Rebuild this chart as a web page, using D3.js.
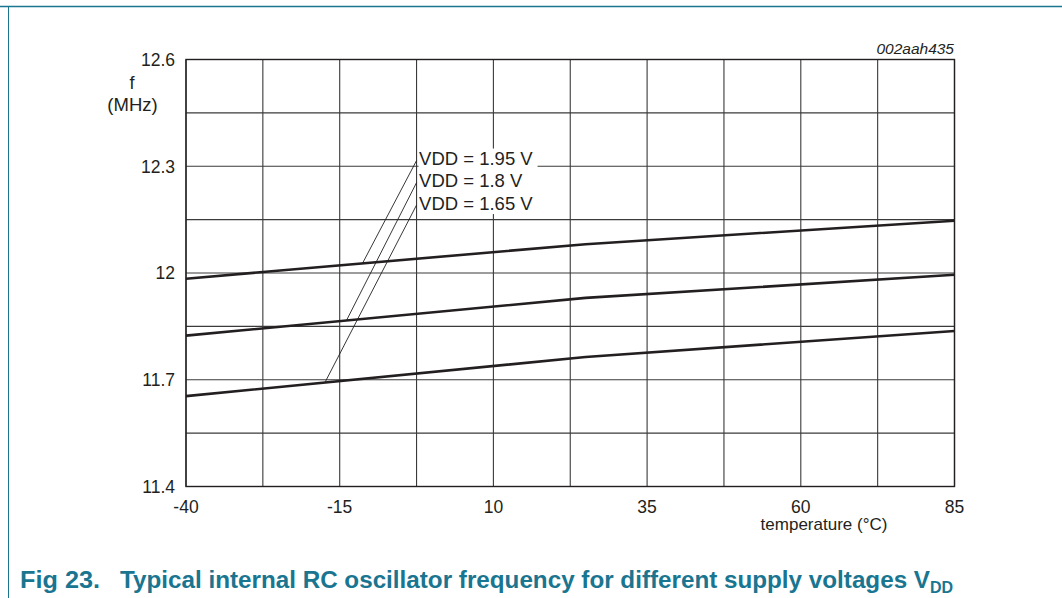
<!DOCTYPE html>
<html lang="en">
<head>
<meta charset="UTF-8">
<title>RC oscillator frequency</title>
<style>
  body { margin: 0; background: #fff; }
  text { font-family: "Liberation Sans", Arial, sans-serif; fill: #231f20; }
</style>
</head>
<body>
<svg id="svg" width="1062" height="598"></svg>
<script src="https://d3js.org/d3.v7.min.js"></script>
<script>
  // data (temperature in degC, frequency in MHz)
  const temps = [-40, 25, 85]
  const f195 = [11.984, 12.081, 12.147]
  const f180 = [11.824, 11.930, 11.995]
  const f165 = [11.654, 11.764, 11.837]
  const seriesNames = ['VDD = 1.95 V', 'VDD = 1.8 V', 'VDD = 1.65 V']
  // where each label's leader line touches its curve
  const leaderTemps = [-11.3, -13.9, -17.4]
  const leaderTops = [12.316, 12.254, 12.191]
  const xTicks = [-40, -15, 10, 35, 60, 85]
  const yTicks = [11.4, 11.7, 12, 12.3, 12.6]

  const margin = { top: 59.5, left: 186, right: 107.5, bottom: 111.5 }
  const width = 1062 - margin.left - margin.right
  const height = 598 - margin.top - margin.bottom

  const svg = d3.select('#svg')

  // teal frame around the figure
  svg.append('line').attr('x1', 0).attr('x2', 1062).attr('y1', 6.5).attr('y2', 6.5)
    .attr('stroke', '#1a7590').attr('stroke-width', 1.5)
  svg.append('line').attr('x1', 8.5).attr('x2', 8.5).attr('y1', 6).attr('y2', 598)
    .attr('stroke', '#1a7590').attr('stroke-width', 1)

  const g = svg.append('g').attr('transform', `translate(${margin.left},${margin.top})`)

  const x = d3.scaleLinear().domain([-40, 85]).range([0, width])
  const y = d3.scaleLinear().domain([11.4, 12.6]).range([height, 0])

  // grid: every 12.5 degC and every 0.15 MHz
  const xGrid = d3.range(0, 11).map(i => -40 + i * 12.5)
  const yGrid = d3.range(0, 9).map(i => 11.4 + i * 0.15)

  g.selectAll('.vgrid').data(xGrid).join('line')
    .attr('class', 'vgrid')
    .attr('x1', d => x(d)).attr('x2', d => x(d))
    .attr('y1', 0).attr('y2', height)
    .attr('stroke', '#3a3a3a').attr('stroke-width', 1.1)
  g.selectAll('.hgrid').data(yGrid).join('line')
    .attr('class', 'hgrid')
    .attr('x1', 0).attr('x2', width)
    .attr('y1', d => y(d)).attr('y2', d => y(d))
    .attr('stroke', '#3a3a3a').attr('stroke-width', 1.1)

  g.append('rect').attr('width', width).attr('height', height)
    .attr('fill', 'none').attr('stroke', '#231f20').attr('stroke-width', 1.4)

  // tick labels
  g.selectAll('.xt').data(xTicks).join('text')
    .attr('class', 'xt')
    .attr('x', d => x(d)).attr('y', height + 26)
    .attr('text-anchor', 'middle').attr('font-size', 17.5)
    .text(d => d)
  g.selectAll('.yt').data(yTicks).join('text')
    .attr('class', 'yt')
    .attr('x', -11).attr('y', d => y(d) + 6.3)
    .attr('text-anchor', 'end').attr('font-size', 17.5)
    .text(d => d3.format('~g')(d))

  svg.append('text').attr('x', 132).attr('y', 89).attr('text-anchor', 'middle')
    .attr('font-size', 18).text('f')
  svg.append('text').attr('x', 132.5).attr('y', 110.5).attr('text-anchor', 'middle')
    .attr('font-size', 18.5).text('(MHz)')
  svg.append('text').attr('x', 824).attr('y', 530).attr('text-anchor', 'middle')
    .attr('font-size', 17).text('temperature (°C)')
  svg.append('text').attr('x', 954).attr('y', 53.5).attr('text-anchor', 'end')
    .attr('font-size', 15.5).attr('font-style', 'italic').text('002aah435')

  // curves
  const series = [f195, f180, f165]
  const line = d3.line().x((d, i) => x(temps[i])).y(d => y(d))
  g.selectAll('.curve').data(series).join('path')
    .attr('class', 'curve')
    .attr('d', line)
    .attr('fill', 'none').attr('stroke', '#231f20').attr('stroke-width', 2.6)

  // labels with white box + leader lines
  const labelX = -2.5
  const lab = g.append('g')
  lab.append('rect')
    .attr('x', x(labelX) + 2).attr('y', y(leaderTops[0]) - 12)
    .attr('width', 119).attr('height', y(leaderTops[2]) - y(leaderTops[0]) + 21)
    .attr('fill', '#fff')

  const interp = (s, t) => {
    const k = t <= temps[1] ? 0 : 1
    const u = (t - temps[k]) / (temps[k + 1] - temps[k])
    return s[k] + u * (s[k + 1] - s[k])
  }
  series.forEach((s, i) => {
    lab.append('line')
      .attr('x1', x(labelX)).attr('y1', y(leaderTops[i]))
      .attr('x2', x(leaderTemps[i])).attr('y2', y(interp(s, leaderTemps[i])))
      .attr('stroke', '#231f20').attr('stroke-width', 0.9)
    lab.append('text')
      .attr('x', x(labelX) + 2.5).attr('y', y(leaderTops[i]) + 4.5)
      .attr('font-size', 18.5).text(seriesNames[i])
  })

  // caption (condensed bold in the original)
  const cap = svg.append('text').attr('y', 588).attr('font-size', 23)
    .attr('font-weight', 'bold').style('fill', '#1a7590')
  cap.append('tspan').attr('x', 20).attr('textLength', 80).attr('lengthAdjust', 'spacingAndGlyphs')
    .text('Fig 23.')
  cap.append('tspan').attr('x', 120).attr('textLength', 810).attr('lengthAdjust', 'spacingAndGlyphs')
    .text('Typical internal RC oscillator frequency for different supply voltages V')
  cap.append('tspan').attr('dy', 5).attr('font-size', 16).text('DD')
</script>
</body>
</html>
